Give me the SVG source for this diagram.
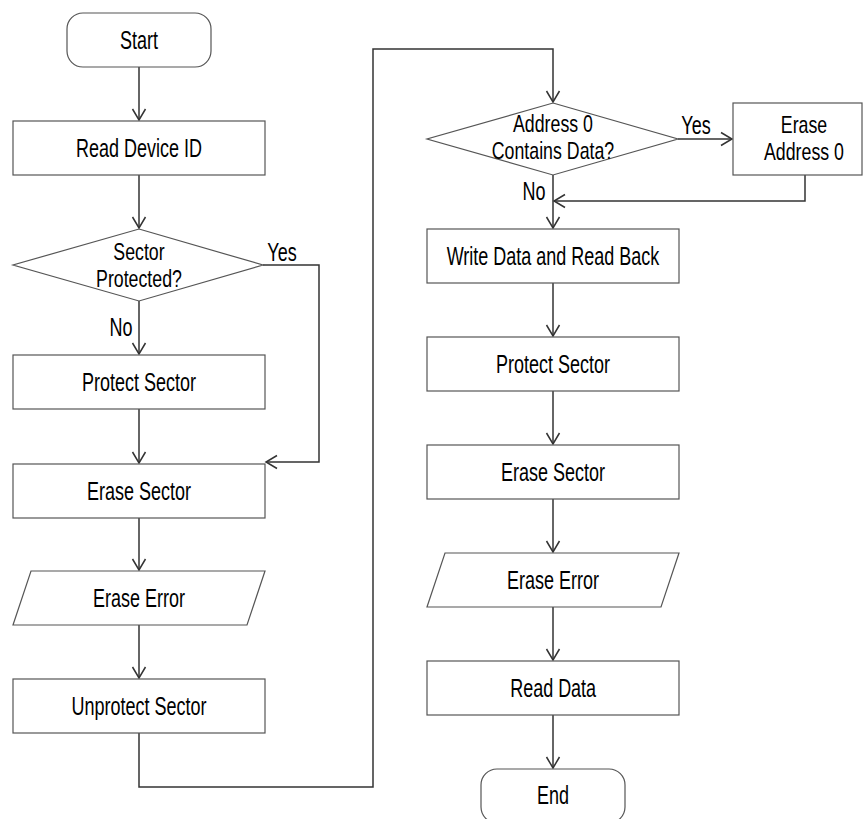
<svg xmlns="http://www.w3.org/2000/svg" width="863" height="819" viewBox="0 0 863 819">
<style>
.box{fill:#fff;stroke:#555;stroke-width:1.2}
.ln{fill:none;stroke:#333;stroke-width:1.5}
text{font-family:"Liberation Sans",Arial,sans-serif;font-size:25px;fill:#000;text-anchor:middle;transform-box:fill-box;transform-origin:center;transform:scaleX(0.72)}
text.ml{font-size:24px;transform:scaleX(0.74)}
</style>
<defs>
<marker id="ah" markerWidth="16" markerHeight="16" refX="12" refY="8" orient="auto" markerUnits="userSpaceOnUse">
<path d="M1,1.5 L12,8 L1,14.5" fill="none" stroke="#333" stroke-width="1.5"/>
</marker>
</defs>
<rect width="863" height="819" fill="#fff"/>
<g id="connectors">
<line class="ln" x1="139" y1="67" x2="139" y2="120" marker-end="url(#ah)"/>
<line class="ln" x1="139" y1="175" x2="139" y2="228" marker-end="url(#ah)"/>
<line class="ln" x1="139" y1="301" x2="139" y2="354" marker-end="url(#ah)"/>
<polyline class="ln" points="263,265 319,265 319,462 266,462" marker-end="url(#ah)"/>
<line class="ln" x1="139" y1="409" x2="139" y2="463" marker-end="url(#ah)"/>
<line class="ln" x1="139" y1="518" x2="139" y2="570" marker-end="url(#ah)"/>
<line class="ln" x1="139" y1="625" x2="139" y2="678" marker-end="url(#ah)"/>
<polyline class="ln" points="139,733 139,787 373,787 373,49 553,49 553,102" marker-end="url(#ah)"/>
<line class="ln" x1="678" y1="139" x2="732" y2="139" marker-end="url(#ah)"/>
<polyline class="ln" points="805,175 805,201 554,201" marker-end="url(#ah)"/>
<line class="ln" x1="553" y1="175" x2="553" y2="228" marker-end="url(#ah)"/>
<line class="ln" x1="553" y1="283" x2="553" y2="336" marker-end="url(#ah)"/>
<line class="ln" x1="553" y1="391" x2="553" y2="444" marker-end="url(#ah)"/>
<line class="ln" x1="553" y1="499" x2="553" y2="552" marker-end="url(#ah)"/>
<line class="ln" x1="553" y1="607" x2="553" y2="660" marker-end="url(#ah)"/>
<line class="ln" x1="553" y1="715" x2="553" y2="768" marker-end="url(#ah)"/>
<text x="282" y="261">Yes</text>
<text x="121" y="336">No</text>
<text x="696" y="134">Yes</text>
<text x="534" y="200">No</text>
</g>
<g id="start"><rect class="box" x="67" y="13" width="144" height="54" rx="16"/><text x="139" y="49">Start</text></g>
<g id="read-device-id"><rect class="box" x="13" y="121" width="252" height="54"/><text x="139" y="157">Read Device ID</text></g>
<g id="sector-protected"><polygon class="box" points="139,229 263,265 139,301 13,265"/><text class="ml" x="139" y="260"><tspan x="139">Sector</tspan><tspan x="139" dy="27">Protected?</tspan></text></g>
<g id="protect-sector-1"><rect class="box" x="13" y="355" width="252" height="54"/><text x="139" y="391">Protect Sector</text></g>
<g id="erase-sector-1"><rect class="box" x="13" y="464" width="252" height="54"/><text x="139" y="500">Erase Sector</text></g>
<g id="erase-error-1"><polygon class="box" points="31,571 265,571 247,625 13,625"/><text x="139" y="607">Erase Error</text></g>
<g id="unprotect-sector"><rect class="box" x="13" y="679" width="252" height="54"/><text x="139" y="715">Unprotect Sector</text></g>
<g id="address0-data"><polygon class="box" points="553,103 678,139 553,175 427,139"/><text class="ml" x="553" y="132"><tspan x="553">Address 0</tspan><tspan x="553" dy="27">Contains Data?</tspan></text></g>
<g id="erase-address0"><rect class="box" x="733" y="103" width="129" height="72"/><text class="ml" x="804" y="133"><tspan x="804">Erase</tspan><tspan x="804" dy="27">Address 0</tspan></text></g>
<g id="write-data"><rect class="box" x="427" y="229" width="252" height="54"/><text x="553" y="265">Write Data and Read Back</text></g>
<g id="protect-sector-2"><rect class="box" x="427" y="337" width="252" height="54"/><text x="553" y="373">Protect Sector</text></g>
<g id="erase-sector-2"><rect class="box" x="427" y="445" width="252" height="54"/><text x="553" y="481">Erase Sector</text></g>
<g id="erase-error-2"><polygon class="box" points="445,553 679,553 661,607 427,607"/><text x="553" y="589">Erase Error</text></g>
<g id="read-data"><rect class="box" x="427" y="661" width="252" height="54"/><text x="553" y="697">Read Data</text></g>
<g id="end"><rect class="box" x="481" y="769" width="144" height="54" rx="16"/><text x="553" y="804">End</text></g>
</svg>
